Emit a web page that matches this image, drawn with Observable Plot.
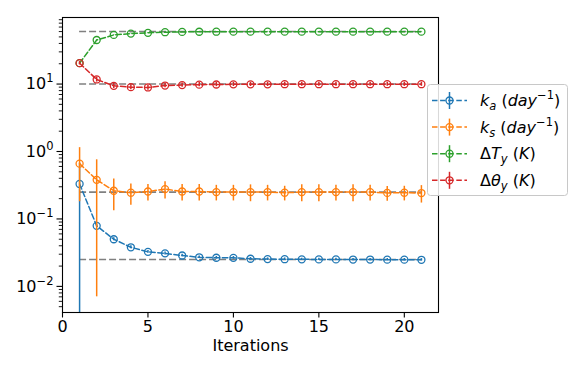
<!DOCTYPE html>
<html><head><meta charset="utf-8">
<script src="https://cdn.jsdelivr.net/npm/d3@7"></script>
<script src="https://cdn.jsdelivr.net/npm/@observablehq/plot@0.6"></script>
<style>body{margin:0;background:#fff} #chart{width:581px;height:372px}</style>
</head><body><div id="chart"></div>
<script>
// ---- data ----
const iterations = [1,2,3,4,5,6,7,8,9,10,11,12,13,14,15,16,17,18,19,20,21];
const ka    = [0.33,0.079,0.050,0.038,0.0325,0.0308,0.0287,0.0270,0.0266,0.0265,0.0257,0.0254,0.0253,0.0252,0.0251,0.0251,0.0250,0.0250,0.0249,0.0249,0.0248];
const kaErr = [0.34,0.004,0.0025,0.002,0.0015,0.0015,0.0013,0.0012,0.0012,0.0012,0.0011,0.0011,0.0011,0.001,0.001,0.001,0.001,0.001,0.001,0.001,0.001];
const ks    = [0.66,0.38,0.262,0.245,0.255,0.277,0.255,0.255,0.25,0.25,0.25,0.25,0.245,0.25,0.25,0.25,0.25,0.25,0.243,0.245,0.242];
const ksErr = [0.48,0.373,0.13,0.085,0.07,0.08,0.07,0.07,0.065,0.065,0.07,0.065,0.06,0.07,0.07,0.065,0.07,0.065,0.06,0.06,0.07];
const dTy    = [20.4,45,53.5,56,57.5,58.7,59.3,59.6,59.7,59.8,59.8,59.8,59.8,59.8,59.8,59.8,59.8,59.8,59.8,59.8,59.8];
const dTyErr = [0.5,0.5,0.5,0.5,0.5,0.5,0.5,0.5,0.5,0.5,0.5,0.5,0.5,0.5,0.5,0.5,0.5,0.5,0.5,0.5,0.5];
const dThy    = [20.4,11.7,9.4,9.0,8.9,9.5,9.65,9.8,9.85,9.9,9.9,9.9,9.95,9.95,9.95,9.95,9.95,9.95,9.95,9.95,9.95];
const dThyErr = [1.2,1.0,0.8,0.8,0.8,0.7,0.7,0.7,0.7,0.7,0.7,0.7,0.7,0.7,0.7,0.7,0.7,0.7,0.7,0.7,0.7];
const refs = [0.025, 0.25, 60, 10];
const seriesKeys = ["ka","ks","dTy","dThy"];
const seriesColors = ["#1f77b4","#ff7f0e","#2ca02c","#d62728"];
const xTicks = [0,5,10,15,20];
const xDomain = [0,22];
const yDomain = [0.0041, 97];
const yMajor = [0.01,0.1,1,10];
// legend labels as math segments
const legendLabels = [
  [{t:"k",i:1},{t:"a",i:1,sub:1},{t:" ("},{t:"day",i:1},{t:"\u22121",sup:1},{t:")"}],
  [{t:"k",i:1},{t:"s",i:1,sub:1},{t:" ("},{t:"day",i:1},{t:"\u22121",sup:1},{t:")"}],
  [{t:"\u0394"},{t:"T",i:1},{t:"y",i:1,sub:1},{t:" ("},{t:"K",i:1},{t:")"}],
  [{t:"\u0394"},{t:"\u03b8",i:1},{t:"y",i:1,sub:1},{t:" ("},{t:"K",i:1},{t:")"}]
];

const values = [ka, ks, dTy, dThy];
const errors = [kaErr, ksErr, dTyErr, dThyErr];
const rows = seriesKeys.flatMap((key, si) => iterations.map((it, i) => {
  const v = values[si][i], e = errors[si][i];
  return {series: key, x: it, y: v, lo: Math.max(v - e, yDomain[0] / 10), hi: v + e};
}));

const yMinor = [];
for (let p = -3; p <= 1; p++) for (let m = 2; m <= 9; m++) {
  const v = m * 10 ** p;
  if (v >= yDomain[0] && v <= yDomain[1]) yMinor.push(v);
}
const refSpan = [d3.min(iterations), d3.max(iterations)];

function seriesMarks(key) {
  const d = rows.filter(r => r.series === key);
  return [
    Plot.ruleX(d, {x: "x", y1: "lo", y2: "hi", stroke: "series", strokeWidth: 1.5, clip: true}),
    Plot.line(d, {x: "x", y: "y", stroke: "series", strokeWidth: 1.5, strokeDasharray: "5.5,2.6"}),
    Plot.dot(d, {x: "x", y: "y", stroke: "series", r: 3.5, strokeWidth: 1.3, fill: "none"})
  ];
}

const chart = Plot.plot({
  width: 581, height: 372,
  marginLeft: 62, marginRight: 143, marginTop: 17, marginBottom: 60,
  style: {fontFamily: "DejaVu Sans", fontSize: "16px", color: "black", background: "white"},
  x: {domain: xDomain},
  y: {type: "log", domain: yDomain},
  color: {domain: seriesKeys, range: seriesColors},
  marks: [
    Plot.ruleY(refs, {y: d => d, x1: refSpan[0], x2: refSpan[1], stroke: "#808080", strokeWidth: 1.6, strokeDasharray: "7,3"}),
    ...seriesKeys.flatMap(seriesMarks),
    Plot.axisX({ticks: xTicks, tickSize: 5.5, tickPadding: 2.5, strokeWidth: 1.1, label: null, fontSize: 16}),
    Plot.axisY({ticks: yMajor, tickSize: 5.5, tickPadding: 3.5, strokeWidth: 1.1, label: null, fontSize: 16,
      tickFormat: d => "10^" + Math.round(Math.log10(d))}),
    Plot.axisY({ticks: yMinor, tickSize: 3.2, strokeWidth: 0.9, label: null, tickFormat: () => ""}),
    Plot.frame({stroke: "black", strokeWidth: 1.1}),
    Plot.text(["Iterations"], {frameAnchor: "bottom", lineAnchor: "middle", dy: 33, text: d => d, fontSize: 16, fill: "black"})
  ]
});
document.getElementById("chart").appendChild(chart);

// superscript exponents in y tick labels
d3.select(chart).selectAll("text").each(function() {
  const s = this.textContent;
  if (/^10\^/.test(s)) {
    const exp = s.slice(3).replace("-", "\u2212");
    const t = d3.select(this);
    t.text("10");
    t.append("tspan").attr("dy", "-7").attr("font-size", "11.5px").text(exp);
  }
});

// legend
const lg = d3.select(chart).append("g").attr("font-family", "DejaVu Sans").attr("font-size", "16px").attr("text-anchor", "start");
lg.append("rect").attr("x", 427.5).attr("y", 84.5).attr("width", 140).attr("height", 111)
  .attr("rx", 3).attr("fill", "white").attr("fill-opacity", 0.85).attr("stroke", "#c8c8c8").attr("stroke-width", 1);
legendLabels.forEach((segs, k) => {
  const cy = 100.5 + k * 26.6;
  const c = seriesColors[k];
  lg.append("line").attr("x1", 432).attr("x2", 467).attr("y1", cy).attr("y2", cy)
    .attr("stroke", c).attr("stroke-width", 1.5).attr("stroke-dasharray", "5.5,2.6");
  lg.append("line").attr("x1", 449.5).attr("x2", 449.5).attr("y1", cy - 8.5).attr("y2", cy + 8.5)
    .attr("stroke", c).attr("stroke-width", 1.5);
  lg.append("circle").attr("cx", 449.5).attr("cy", cy).attr("r", 3.5)
    .attr("fill", "none").attr("stroke", c).attr("stroke-width", 1.3);
  const txt = lg.append("text").attr("x", 480).attr("y", cy + 5.5).attr("fill", "black").attr("text-anchor", "start");
  let off = 0;
  segs.forEach(s => {
    const target = s.sub ? 4 : s.sup ? -7 : 0;
    txt.append("tspan").attr("dy", target - off)
      .attr("font-style", s.i ? "italic" : "normal")
      .attr("font-size", (s.sub || s.sup) ? "11.5px" : "16px")
      .text(s.t);
    off = target;
  });
  txt.attr("style", "white-space:pre");
});
</script>
</body></html>
